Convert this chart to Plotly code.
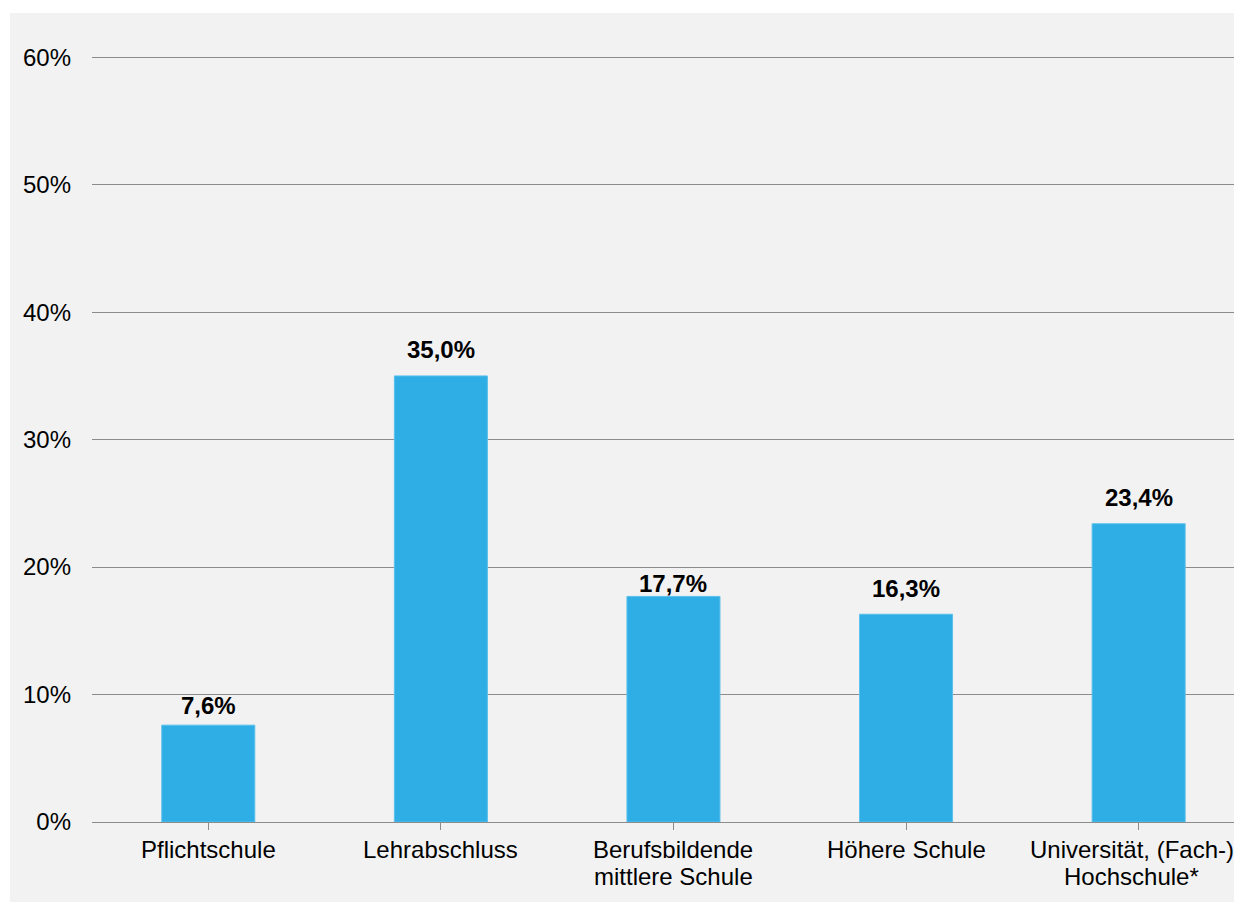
import plotly.graph_objects as go

categories = [
    "Pflichtschule",
    "Lehrabschluss",
    "Berufsbildende<br>mittlere Schule",
    "Höhere Schule",
    "Universität, (Fach-)<br>Hochschule*",
]
shares = [7.6, 35.0, 17.7, 16.3, 23.4]
y_ticks = [0, 10, 20, 30, 40, 50, 60]

# vertical nudge of each value label above its bar (px)
label_offsets = [4, 11, -3, 10, 11]
# horizontal nudge of the category labels (last one would hit the edge)
cat_xshift = [0, 0, 0, 0, -7]

bar_color = "#2EAEE4"
panel_color = "#F2F2F2"
grid_color = "#8C8C8C"
font_family = "Liberation Sans, Arial, sans-serif"

fig = go.Figure()

fig.add_trace(
    go.Bar(
        x=list(range(len(categories))),
        y=shares,
        width=0.4,
        marker=dict(color=bar_color, line=dict(width=1, color="#5BC0EC")),
        hoverinfo="y",
    )
)

for i, v in enumerate(shares):
    fig.add_annotation(
        x=i,
        y=v,
        xref="x",
        yref="y",
        text="<b>" + f"{v:.1f}".replace(".", ",") + "%</b>",
        showarrow=False,
        yanchor="bottom",
        yshift=label_offsets[i],
        font=dict(size=24, color="black", family=font_family),
    )

# category labels, one annotation per line to keep the tight line spacing
for i, cat in enumerate(categories):
    for j, line in enumerate(cat.split("<br>")):
        fig.add_annotation(
            x=i,
            y=0,
            xref="x",
            yref="paper",
            text=line,
            showarrow=False,
            yanchor="top",
            yshift=-12 - 27 * j,
            xshift=cat_xshift[i],
            font=dict(size=24, color="black", family=font_family),
        )

# grey panel behind the chart
fig.add_shape(
    type="rect",
    xref="paper",
    yref="paper",
    x0=-0.0718,
    x1=1.01,
    y0=-0.13,
    y1=1.056,
    fillcolor=panel_color,
    line=dict(width=0),
    layer="below",
)

# page body has an 8px margin, so keep the figure inside the window
fig.update_layout(
    width=1226,
    height=894,
    margin=dict(l=84, r=0, t=48, b=80, pad=0),
    paper_bgcolor="white",
    plot_bgcolor="rgba(0,0,0,0)",
    showlegend=False,
    font=dict(family=font_family, size=24, color="black"),
    xaxis=dict(
        tickmode="array",
        tickvals=list(range(len(categories))),
        ticktext=categories,
        showticklabels=False,
        range=[-0.5, 4.41],
        tickson="boundaries",
        ticks="outside",
        ticklen=7,
        tickwidth=1,
        tickcolor=grid_color,
        showgrid=False,
        showline=True,
        linecolor=grid_color,
        linewidth=1,
        zeroline=False,
    ),
    yaxis=dict(
        range=[0, 60.1],
        tickvals=y_ticks,
        ticktext=[f"{t}%" for t in y_ticks],
        showgrid=True,
        gridcolor=grid_color,
        gridwidth=1,
        zeroline=False,
        showline=False,
        ticks="",
        ticklabelstandoff=20,
        tickfont=dict(size=24, color="black"),
        fixedrange=True,
    ),
)

fig.write_html("out.html")
